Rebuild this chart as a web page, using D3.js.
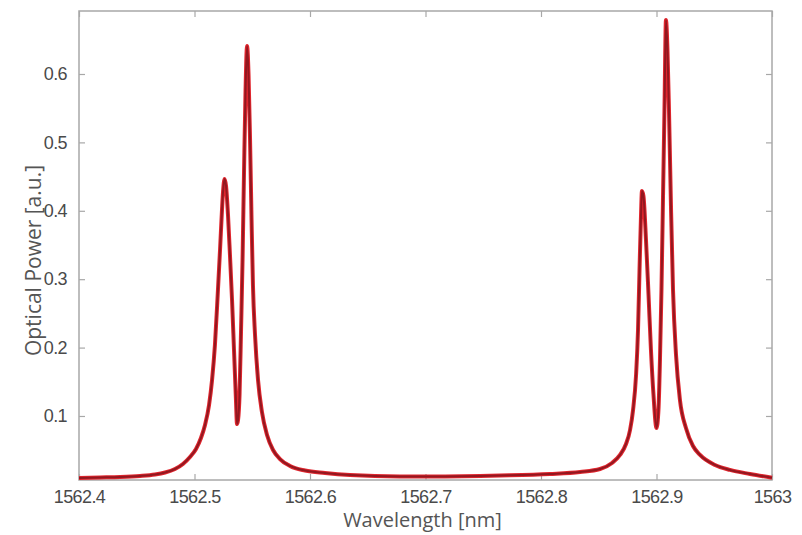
<!DOCTYPE html>
<html>
<head>
<meta charset="utf-8">
<script src="https://cdn.jsdelivr.net/npm/d3@7"></script>
<style>
  body { margin: 0; background: #fff; }
  svg { display: block; font-family: "Open Sans", sans-serif; }
</style>
</head>
<body>
<svg id="chart" width="802" height="535"></svg>
<script>
// spectrum: wavelength [nm] and optical power [a.u.]
var wavelength = [
  1562.4000, 1562.4182, 1562.4355, 1562.4528, 1562.4658, 1562.4745, 1562.4831,
  1562.4900, 1562.4961, 1562.5013, 1562.5056, 1562.5091, 1562.5126, 1562.5152,
  1562.5177, 1562.5203, 1562.5221, 1562.5238, 1562.5247, 1562.5260, 1562.5273,
  1562.5290, 1562.5307, 1562.5325, 1562.5342, 1562.5359, 1562.5368, 1562.5377,
  1562.5390, 1562.5403, 1562.5416, 1562.5429, 1562.5442, 1562.5455, 1562.5468,
  1562.5481, 1562.5494, 1562.5506, 1562.5524, 1562.5550, 1562.5584, 1562.5628,
  1562.5680, 1562.5740, 1562.5827, 1562.5957, 1562.6130, 1562.6346, 1562.6779,
  1562.7039, 1562.7645, 1562.8078, 1562.8338, 1562.8511, 1562.8615, 1562.8684,
  1562.8736, 1562.8771, 1562.8797, 1562.8823, 1562.8840, 1562.8853, 1562.8866,
  1562.8874, 1562.8887, 1562.8909, 1562.8931, 1562.8952, 1562.8974, 1562.9000,
  1562.9017, 1562.9030, 1562.9043, 1562.9056, 1562.9069, 1562.9082, 1562.9095,
  1562.9108, 1562.9126, 1562.9143, 1562.9169, 1562.9203, 1562.9255, 1562.9316,
  1562.9377, 1562.9506, 1562.9636, 1562.9810, 1563.0000
];
var power = [
  0.0094, 0.0101, 0.0108, 0.0123, 0.0145, 0.0174, 0.0225,
  0.0298, 0.0401, 0.0518, 0.0678, 0.0868, 0.1161, 0.1526,
  0.2038, 0.2842, 0.3427, 0.4012, 0.4275, 0.4465, 0.4363,
  0.3939, 0.3354, 0.2696, 0.1965, 0.1234, 0.0883, 0.0942,
  0.1307, 0.2257, 0.3281, 0.4596, 0.5766, 0.6409, 0.5985,
  0.5035, 0.3865, 0.2915, 0.2184, 0.1526, 0.1058, 0.0722,
  0.0503, 0.0371, 0.0269, 0.0203, 0.0167, 0.0137, 0.0116,
  0.0116, 0.0130, 0.0152, 0.0181, 0.0225, 0.0313, 0.0430,
  0.0591, 0.0795, 0.1088, 0.1599, 0.2257, 0.3135, 0.3939,
  0.4289, 0.4216, 0.3573, 0.2769, 0.1965, 0.1307, 0.0825,
  0.1088, 0.1819, 0.2842, 0.4158, 0.5474, 0.6789, 0.6351,
  0.5474, 0.4012, 0.2842, 0.1892, 0.1234, 0.0825, 0.0561,
  0.0430, 0.0284, 0.0211, 0.0152, 0.0098
];
var xTicks = [1562.4, 1562.5, 1562.6, 1562.7, 1562.8, 1562.9, 1563];
var yTicks = [0.1, 0.2, 0.3, 0.4, 0.5, 0.6];

var data = wavelength.map((d, i) => ({ x: d, y: power[i] }));

var margin = { top: 11, right: 30, bottom: 55, left: 79 };
var svg = d3.select('#chart');
var width = +svg.attr('width') - margin.left - margin.right;
var height = +svg.attr('height') - margin.top - margin.bottom;

var x = d3.scaleLinear().domain([1562.4, 1563]).range([0, width]);
var y = d3.scaleLinear().domain([0.0064, 0.6921]).range([height, 0]);

var g = svg.append('g')
  .attr('transform', 'translate(' + margin.left + ',' + margin.top + ')');

// matlab style box with inward ticks on all four sides
function styleAxis(sel) {
  sel.select('.domain').remove();
  sel.selectAll('.tick line').attr('stroke', '#a8a8a8').attr('stroke-width', 1.2);
  sel.selectAll('.tick text')
    .attr('fill', '#4a4a4a')
    .style('font-size', '18px')
    .style('letter-spacing', '-0.6px');
}

var fmtX = d => d3.format('')(+d.toFixed(1));

g.append('g')
  .attr('transform', 'translate(0,' + height + ')')
  .call(d3.axisBottom(x).tickValues(xTicks).tickSizeInner(-6).tickSizeOuter(0)
    .tickPadding(10).tickFormat(fmtX))
  .call(styleAxis);

g.append('g')
  .call(d3.axisTop(x).tickValues(xTicks).tickSizeInner(-6).tickSizeOuter(0).tickFormat(''))
  .call(styleAxis);

g.append('g')
  .call(d3.axisLeft(y).tickValues(yTicks).tickSizeInner(-6).tickSizeOuter(0)
    .tickPadding(12).tickFormat(d3.format('.1f')))
  .call(styleAxis);

g.append('g')
  .attr('transform', 'translate(' + width + ',0)')
  .call(d3.axisRight(y).tickValues(yTicks).tickSizeInner(-6).tickSizeOuter(0).tickFormat(''))
  .call(styleAxis);

g.append('rect')
  .attr('width', width)
  .attr('height', height)
  .attr('fill', 'none')
  .attr('stroke', '#a8a8a8')
  .attr('stroke-width', 1.5);

// spectrum line: bright red edge with darker core
var line = d3.line()
  .x(d => x(d.x))
  .y(d => y(d.y))
  .curve(d3.curveMonotoneX);

g.append('path')
  .datum(data)
  .attr('d', line)
  .attr('fill', 'none')
  .attr('stroke', '#e0262e')
  .attr('stroke-width', 4)
  .attr('stroke-linejoin', 'round');

g.append('path')
  .datum(data)
  .attr('d', line)
  .attr('fill', 'none')
  .attr('stroke', '#921820')
  .attr('stroke-width', 2)
  .attr('stroke-linejoin', 'round');

// axis titles
svg.append('text')
  .attr('x', margin.left + width / 2 - 3)
  .attr('y', 527)
  .attr('text-anchor', 'middle')
  .attr('fill', '#555')
  .style('font-size', '20px')
  .text('Wavelength [nm]');

svg.append('text')
  .attr('transform', 'translate(41,' + (margin.top + height / 2 + 15) + ') rotate(-90)')
  .attr('text-anchor', 'middle')
  .attr('fill', '#555')
  .style('font-size', '21px')
  .text('Optical Power [a.u.]');
</script>
</body>
</html>
